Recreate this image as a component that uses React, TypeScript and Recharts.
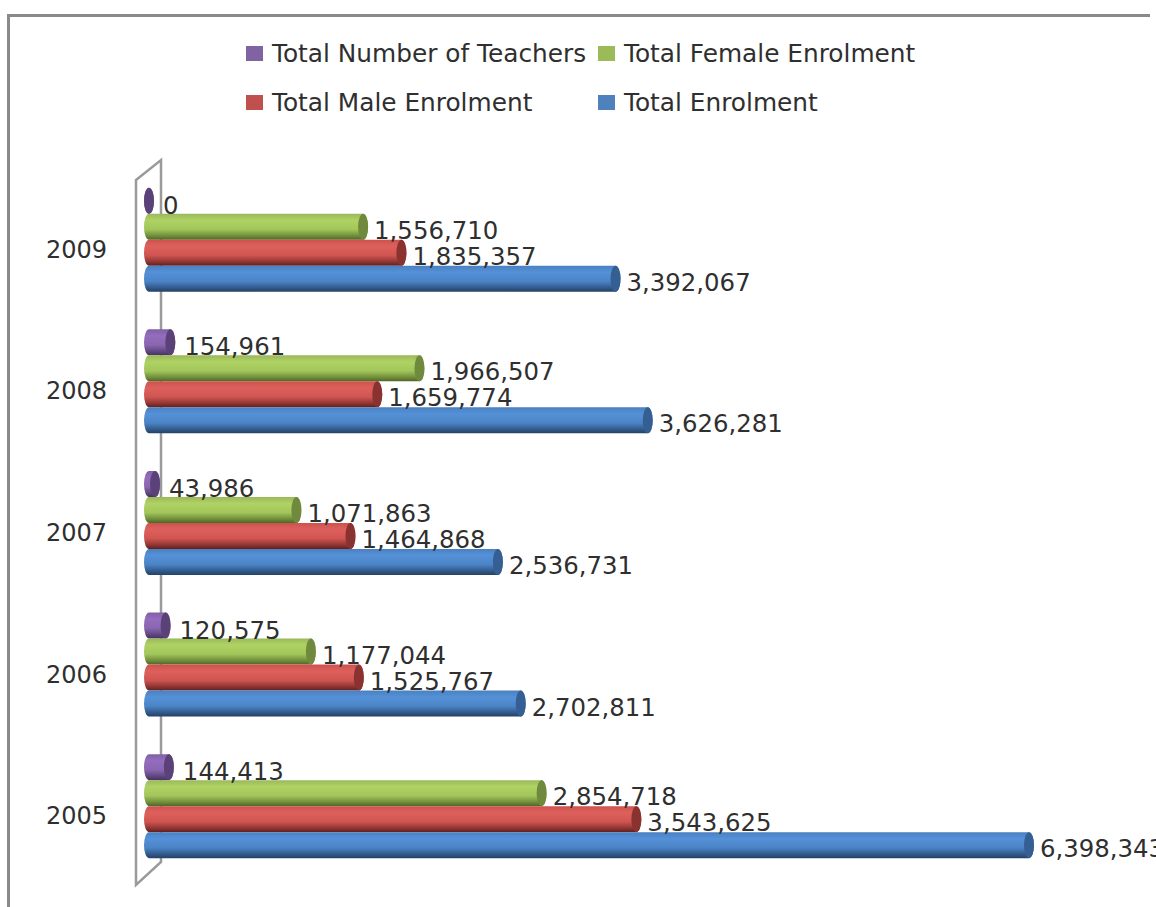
import { Bar, BarChart, LabelList, Legend, XAxis, YAxis, usePlotArea } from "recharts"

const years = ["2009", "2008", "2007", "2006", "2005"]
const teachers = [0, 154961, 43986, 120575, 144413]
const femaleEnrolment = [1556710, 1966507, 1071863, 1177044, 2854718]
const maleEnrolment = [1835357, 1659774, 1464868, 1525767, 3543625]
const totalEnrolment = [3392067, 3626281, 2536731, 2702811, 6398343]

const data = years.map((year, i) => ({
  year,
  teachers: teachers[i],
  female: femaleEnrolment[i],
  male: maleEnrolment[i],
  total: totalEnrolment[i],
}))

const FONT = "'DejaVu Sans', sans-serif"
const TEXT = "#2f2f2f"
const CAP_RX = 5

const gradients = [
  { id: "purple", stops: ["#7f60a4", "#946dbe", "#8a66b0", "#5f4680", "#46335e"], cap: "#5a4278" },
  { id: "green", stops: ["#9ab85a", "#b0d264", "#a2c65a", "#708d3b", "#4f6628"], cap: "#6f8a3c" },
  { id: "red", stops: ["#cc524e", "#de605c", "#d05551", "#8f3532", "#5f201e"], cap: "#8a3230" },
  { id: "blue", stops: ["#4a80c0", "#5591d8", "#4b84c6", "#32598a", "#234264"], cap: "#355f92" },
]

const series = [
  { key: "teachers", name: "Total Number of Teachers", fill: "#8064a2", g: gradients[0], gap: 9, drop: 13 },
  { key: "female", name: "Total Female Enrolment", fill: "#9bbb59", g: gradients[1], gap: 6, drop: 12 },
  { key: "male", name: "Total Male Enrolment", fill: "#c0504d", g: gradients[2], gap: 6, drop: 12 },
  { key: "total", name: "Total Enrolment", fill: "#4f81bd", g: gradients[3], gap: 6, drop: 12 },
]

function cylinder(g: { id: string; cap: string }) {
  return function Cylinder(props: any) {
    const { x, y, width, height } = props
    const ry = height / 2
    const d = `M${x},${y} L${x + width},${y} A${CAP_RX},${ry} 0 0 1 ${x + width},${y + height} L${x},${y + height} A${CAP_RX},${ry} 0 0 1 ${x},${y} Z`
    return (
      <g>
        <path d={d} fill={`url(#${g.id})`} />
        <ellipse cx={x + width} cy={y + ry} rx={CAP_RX} ry={ry} fill={g.cap} />
      </g>
    )
  }
}

function valueLabel(gap: number, drop: number) {
  return function ValueLabel(props: any) {
    const { x, y, width, height, value } = props
    return (
      <text
        x={x + width + CAP_RX + gap}
        y={y + height / 2 + drop}
        fontFamily={FONT}
        fontSize={24.4}
        fill={TEXT}
      >
        {Number(value).toLocaleString("en-US")}
      </text>
    )
  }
}

function YearTick(props: any) {
  const { x, y, payload } = props
  return (
    <text x={x} y={y + 18} textAnchor="end" fontFamily={FONT} fontSize={24} fill={TEXT}>
      {payload.value}
    </text>
  )
}

// the slanted 3D wall behind the bars
function Wall() {
  const plot = usePlotArea()
  if (!plot) return null
  const left = plot.x - 13
  const back = plot.x + 12
  const top = plot.y
  const bottom = plot.y + plot.height
  return (
    <path
      d={`M${left},${top + 11} L${back},${top - 9} L${back},${bottom - 15} L${left},${bottom + 8} Z`}
      fill="none"
      stroke="#9a9a9a"
      strokeWidth={2.5}
    />
  )
}

function LegendGrid({ payload }: any) {
  // recharts flips the item order on vertical bars, so go back to the series order
  const items = series.map((s) => (payload ?? []).find((p: any) => p.dataKey === s.key)).filter(Boolean)
  return (
    <div
      style={{
        display: "grid",
        gridTemplateColumns: "352px 320px",
        gridAutoRows: "48.5px",
        fontFamily: FONT,
        fontSize: 24.8,
        color: TEXT,
      }}
    >
      {items.map((entry: any) => (
        <div key={entry.value} style={{ display: "flex", alignItems: "center", whiteSpace: "nowrap" }}>
          <span style={{ width: 17, height: 15, flexShrink: 0, background: entry.color, marginRight: 9 }} />
          {entry.value}
        </div>
      ))}
    </div>
  )
}

export default function App() {
  return (
    <div style={{ position: "absolute", left: 0, top: 0, width: 1156, height: 907, background: "#fff", overflow: "hidden" }}>
      <div
        style={{
          position: "absolute",
          left: 7,
          top: 14,
          width: 1140,
          height: 900,
          borderTop: "3px solid #8a8a8a",
          borderLeft: "3px solid #8a8a8a",
        }}
      />
      <BarChart
        width={1156}
        height={907}
        data={data}
        layout="vertical"
        margin={{ top: 169, right: 127, bottom: 30, left: 0 }}
        barGap={0}
        barCategoryGap={18.75}
        style={{ position: "absolute", left: 0, top: 0 }}
      >
        <defs>
          {gradients.map((g) => (
            <linearGradient key={g.id} id={g.id} x1="0" y1="0" x2="0" y2="1">
              <stop offset="0%" stopColor={g.stops[0]} />
              <stop offset="25%" stopColor={g.stops[1]} />
              <stop offset="60%" stopColor={g.stops[2]} />
              <stop offset="85%" stopColor={g.stops[3]} />
              <stop offset="100%" stopColor={g.stops[4]} />
            </linearGradient>
          ))}
        </defs>
        <Wall />
        <XAxis type="number" hide domain={[0, 6398343]} />
        <YAxis
          type="category"
          dataKey="year"
          width={149}
          axisLine={false}
          tickLine={false}
          tickMargin={36}
          tick={YearTick}
        />
        <Legend
          layout="horizontal"
          verticalAlign="middle"
          align="center"
          content={LegendGrid}
          wrapperStyle={{ position: "absolute", left: 246, top: 29.5, width: 700, height: 97 }}
        />
        {series.map((s) => (
          <Bar key={s.key} dataKey={s.key} name={s.name} fill={s.fill} shape={cylinder(s.g)} isAnimationActive={false}>
            <LabelList dataKey={s.key} content={valueLabel(s.gap, s.drop)} />
          </Bar>
        ))}
      </BarChart>
    </div>
  )
}
